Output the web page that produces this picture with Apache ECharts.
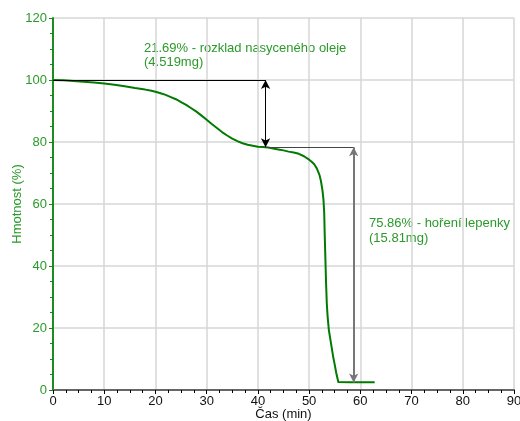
<!DOCTYPE html>
<html>
<head>
<meta charset="utf-8">
<script src="https://cdn.jsdelivr.net/npm/echarts@6/dist/echarts.min.js"></script>
<style>
  html, body { margin: 0; padding: 0; background: #fff; }
  #tga { width: 520px; height: 421px; }
</style>
</head>
<body>
<div id="tga"></div>
<script>
// TGA krivka - cas (min) a hmotnost (%)
const timeMin = [0, 2, 4, 6, 8, 10, 12, 14, 16, 18, 19, 20, 21, 22, 23, 24, 25, 26, 27, 28, 29, 30,
  31, 32, 33, 34, 35, 36, 37, 38, 39, 40, 41, 42, 43, 44, 45, 46, 47, 48, 49, 50, 50.5, 51, 51.5,
  52, 52.3, 52.6, 52.8, 52.95, 53.05, 53.15, 53.3, 53.45, 53.6, 53.85, 54.3, 54.7, 55.0, 55.3, 55.7, 58, 60, 62.8];
const massPct = [100, 99.9, 99.7, 99.4, 99.2, 98.9, 98.5, 98.0, 97.4, 96.9, 96.6, 96.2, 95.7, 95.2, 94.5, 93.8, 92.9, 92.0, 90.9, 89.8, 88.5, 87.2,
  85.8, 84.5, 83.2, 82.1, 81.1, 80.3, 79.6, 79.1, 78.8, 78.5, 78.35, 78.2, 77.9, 77.6, 77.3, 76.9, 76.6, 76.2, 75.4, 74.3, 73.6, 72.8, 71.5,
  69.5, 67.5, 64.5, 61.5, 57, 50, 44, 35, 28, 24, 19.4, 14.8, 10.7, 8.2, 5.5, 2.6, 2.5, 2.5, 2.5];

// odecet kroku
const stepX = [41.5, 58.7];
const stepY = [100, 78.3, 2.44];
const stepText = ['21.69% - rozklad nasyceného oleje\n(4.519mg)', '75.86% - hoření lepenky\n(15.81mg)'];

const xTicks = { min: 0, max: 90, step: 10 };
const yTicks = { min: 0, max: 120, step: 20 };

const chart = echarts.init(document.getElementById('tga'));
const green = '#2a9a2a';
const font = 'Arial, "Liberation Sans", sans-serif';

const option = {
  animation: false,
  grid: { left: 53, right: 6, top: 18, bottom: 31, containLabel: false, outerBoundsMode: 'none' },
  xAxis: [{
    type: 'value',
    min: xTicks.min, max: xTicks.max, interval: xTicks.step,
    name: 'Čas (min)', nameLocation: 'middle', nameGap: 18, nameMoveOverlap: false,
    nameTextStyle: { color: '#111', fontSize: 13, fontFamily: font },
    axisLine: { lineStyle: { color: '#000', width: 1 } },
    axisTick: { show: true, length: 4, lineStyle: { color: '#000' } },
    minorTick: { show: true, splitNumber: 4, length: 3, lineStyle: { color: '#000' } },
    axisLabel: { color: '#111', fontSize: 13, fontFamily: font, margin: 5 },
    splitLine: { show: true, lineStyle: { color: '#d6d6d6', width: 1.5 } }
  }, {
    type: 'value', position: 'top',
    min: xTicks.min, max: xTicks.max,
    axisLine: { show: true, lineStyle: { color: '#666', width: 2 } },
    axisTick: { show: false }, axisLabel: { show: false }, splitLine: { show: false }
  }],
  yAxis: [{
    type: 'value',
    min: yTicks.min, max: yTicks.max, interval: yTicks.step,
    name: 'Hmotnost (%)', nameLocation: 'middle', nameGap: 29, nameMoveOverlap: false,
    nameTextStyle: { color: green, fontSize: 13, fontFamily: font },
    axisLine: { show: true, lineStyle: { color: '#118811', width: 1.5 } },
    axisTick: { show: true, length: 4, lineStyle: { color: '#118811' } },
    minorTick: { show: true, splitNumber: 4, length: 3, lineStyle: { color: '#118811' } },
    axisLabel: { color: green, fontSize: 13, fontFamily: font, margin: 6 },
    splitLine: { show: true, lineStyle: { color: '#d6d6d6', width: 1.5 } }
  }, {
    type: 'value', position: 'right',
    min: yTicks.min, max: yTicks.max,
    axisLine: { show: true, lineStyle: { color: '#118811', width: 1.5 } },
    axisTick: { show: false }, axisLabel: { show: false }, splitLine: { show: false }
  }],
  series: [
    {
      type: 'line',
      data: timeMin.map((t, i) => [t, massPct[i]]),
      showSymbol: false,
      smooth: false,
      lineStyle: { color: '#007a00', width: 2, join: 'round' },
      markLine: {
        silent: true,
        symbol: 'none',
        label: { show: false },
        data: [
          [{ coord: [0, stepY[0]], lineStyle: { color: '#000', width: 1, type: 'solid' } }, { coord: [stepX[0], stepY[0]] }],
          [{ coord: [stepX[0], stepY[1]], lineStyle: { color: '#444', width: 1, type: 'solid' } }, { coord: [stepX[1], stepY[1]] }]
        ]
      }
    },
    {
      type: 'line',
      data: [],
      markLine: {
        silent: true,
        symbol: ['arrow', 'arrow'],
        symbolSize: [7, 9],
        label: { show: false },
        data: [
          [{ coord: [stepX[0], stepY[0]], lineStyle: { color: '#000', width: 1, type: 'solid' } }, { coord: [stepX[0], stepY[1]] }],
          [{ coord: [stepX[1], stepY[1]], lineStyle: { color: '#777', width: 2, type: 'solid' } }, { coord: [stepX[1], stepY[2]] }]
        ]
      }
    }
  ],
  graphic: [
    {
      type: 'text', left: 144, top: 41,
      style: { text: stepText[0], fill: green, fontSize: 13, fontFamily: font, lineHeight: 14 }
    },
    {
      type: 'text', left: 369, top: 216,
      style: { text: stepText[1], fill: green, fontSize: 13, fontFamily: font, lineHeight: 15 }
    }
  ]
};
chart.setOption(option);
</script>
</body>
</html>
